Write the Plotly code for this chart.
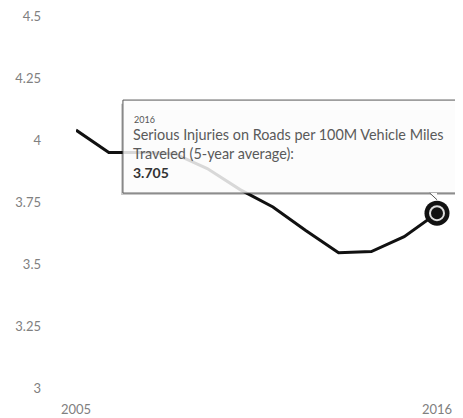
import plotly.graph_objects as go

# data
years = [2005, 2006, 2007, 2008, 2009, 2010, 2011, 2012, 2013, 2014, 2015, 2016]
injuries = [4.04, 3.95, 3.95, 3.945, 3.885, 3.80, 3.73, 3.635, 3.545, 3.55, 3.61, 3.705]
metric_name = "Serious Injuries on Roads per 100M Vehicle Miles<br>Traveled (5-year average):"
y_ticks = [3, 3.25, 3.5, 3.75, 4, 4.25, 4.5]
y_tick_text = ["3", "3.25", "3.5", "3.75", "4", "4.25", "4.5"]
x_ticks = [2005, 2016]

font_name = "Lato"
grey = "#808080"

fig = go.Figure()

fig.add_trace(go.Scatter(x=years, y=injuries, mode="lines",
                         line=dict(color="#111111", width=3),
                         hoverinfo="skip", showlegend=False))

# hovered point: outer black ring + inner dot with light ring
fig.add_trace(go.Scatter(x=[years[-1]], y=[injuries[-1]], mode="markers", cliponaxis=False,
                         marker=dict(size=25, color="#111111"),
                         hoverinfo="skip", showlegend=False))
fig.add_trace(go.Scatter(x=[years[-1]], y=[injuries[-1]], mode="markers", cliponaxis=False,
                         marker=dict(size=14, color="#111111", line=dict(color="#dddddd", width=2)),
                         hoverinfo="skip", showlegend=False))

# tooltip box (runs off the right edge like in the screenshot)
box_x0, box_y0, box_y1 = 0.13, 0.524, 0.774
fig.add_shape(type="rect", xref="paper", yref="paper",
              x0=box_x0, x1=1.3, y0=box_y0, y1=box_y1,
              fillcolor="rgba(252,252,252,0.85)", line=dict(color="#555555", width=1), layer="above")
# soft shadow on the left and bottom edges
fig.add_shape(type="path", xref="paper", yref="paper",
              path="M %f,%f L %f,%f L %f,%f" % (box_x0 - 0.003, box_y1 - 0.01, box_x0 - 0.003, box_y0 - 0.003,
                                                1.3, box_y0 - 0.003),
              line=dict(color="rgba(0,0,0,0.22)", width=1.5), layer="above")
fig.add_shape(type="path", xref="x", yref="paper",
              path="M %f,%f L %f,%f L %f,%f" % (years[-1] - 0.22, box_y0, years[-1], box_y0 - 0.018,
                                                years[-1] + 0.22, box_y0),
              fillcolor="rgba(252,252,252,1)", line=dict(color="#555555", width=1), layer="above")

fig.add_annotation(xref="paper", yref="paper", x=0.155, y=0.723, xanchor="left", yanchor="middle",
                   text=str(years[-1]), showarrow=False, font=dict(family=font_name, size=9, color="#555555"))
fig.add_annotation(xref="paper", yref="paper", x=0.152, y=0.6546, xanchor="left", yanchor="middle",
                   text=metric_name, showarrow=False, align="left",
                   font=dict(family=font_name, size=14.4, color="#5a5a5a"))
fig.add_annotation(xref="paper", yref="paper", x=0.152, y=0.578, xanchor="left", yanchor="middle",
                   text="<b>%.3f</b>" % injuries[-1], showarrow=False,
                   font=dict(family=font_name, size=14, color="#333333"))

fig.update_xaxes(range=[2005, 2016], tickvals=x_ticks, ticktext=[str(t) for t in x_ticks],
                 showgrid=False, zeroline=False, showline=False, ticklabelstandoff=12, automargin=False,
                 ticklabeloverflow="allow",
                 tickfont=dict(family=font_name, size=13, color=grey))
fig.update_yaxes(range=[3, 4.5], tickvals=y_ticks, ticktext=y_tick_text,
                 showgrid=False, zeroline=False, showline=False, ticklabelstandoff=34, automargin=False,
                 ticklabeloverflow="allow",
                 tickfont=dict(family=font_name, size=13, color=grey))

# page body has an 8px margin, so the figure is 8px smaller and shifted
fig.update_layout(width=455, height=410, margin=dict(l=68, r=26, t=8, b=30),
                  paper_bgcolor="white", plot_bgcolor="white",
                  font=dict(family=font_name))

fig.write_html("out.html")
